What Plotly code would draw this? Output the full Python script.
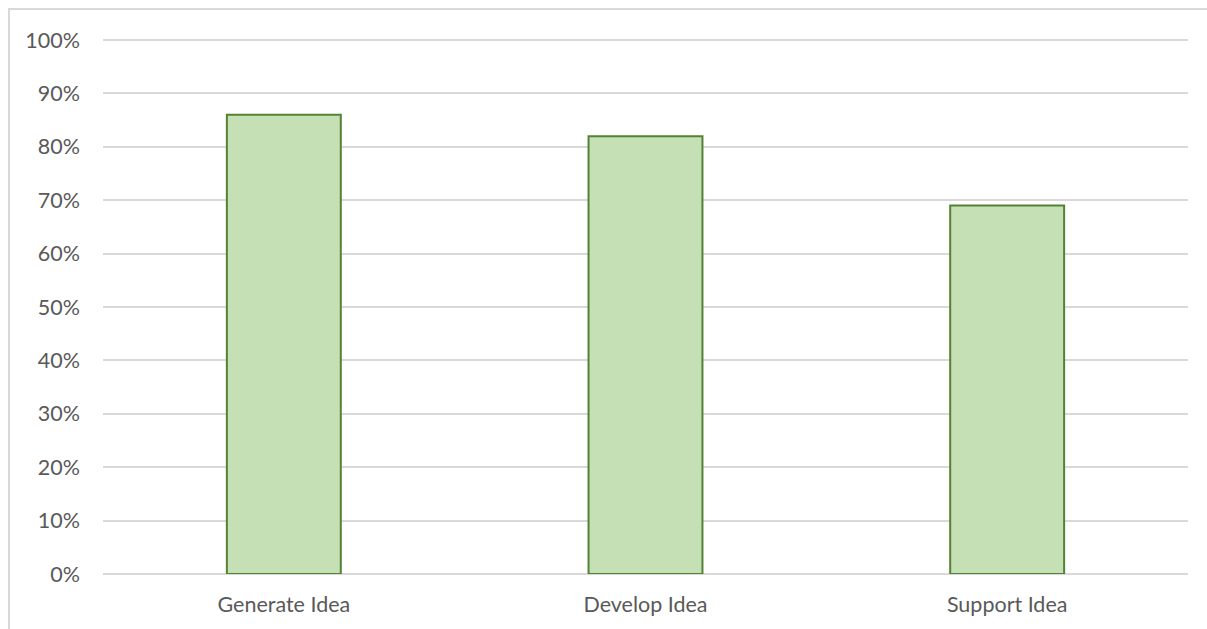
import plotly.graph_objects as go

categories = ["Generate Idea", "Develop Idea", "Support Idea"]
values = [0.86, 0.82, 0.69]
tick_vals = [0, 0.1, 0.2, 0.3, 0.4, 0.5, 0.6, 0.7, 0.8, 0.9, 1.0]

W, H = 1207, 629
L, R, T, B = 103, 19, 39, 55
pw, ph = W - L - R, H - T - B

fig = go.Figure()
fig.add_trace(go.Bar(
    x=categories, y=values,
    marker=dict(color="#C5E0B4", line=dict(color="#548235", width=2)),
    hoverinfo="x+y",
))

fig.update_layout(
    width=W, height=H,
    margin=dict(l=L, r=R, t=T, b=B, pad=0),
    paper_bgcolor="white", plot_bgcolor="white",
    bargap=0.685,
    showlegend=False,
    font=dict(family="Lato, Carlito, Calibri, sans-serif", size=21.5, color="#595959"),
    xaxis=dict(showgrid=False, showline=False, ticks="", zeroline=False,
               ticklabelstandoff=15),
    yaxis=dict(range=[0, 1.002], tickvals=tick_vals, tickformat=".0%",
               showgrid=True, gridcolor="#D9D9D9", gridwidth=2,
               zeroline=True, zerolinecolor="#D9D9D9", zerolinewidth=2,
               showline=False, ticks="", ticklabelstandoff=22),
    shapes=[dict(type="rect", xref="paper", yref="paper",
                 x0=(9 - L) / pw, x1=(W + 20 - L) / pw,
                 y0=-(B + 20) / ph, y1=1 + (T - 9) / ph,
                 line=dict(color="#D9D9D9", width=2), fillcolor="rgba(0,0,0,0)",
                 layer="below")],
)

fig.write_html("out.html")
